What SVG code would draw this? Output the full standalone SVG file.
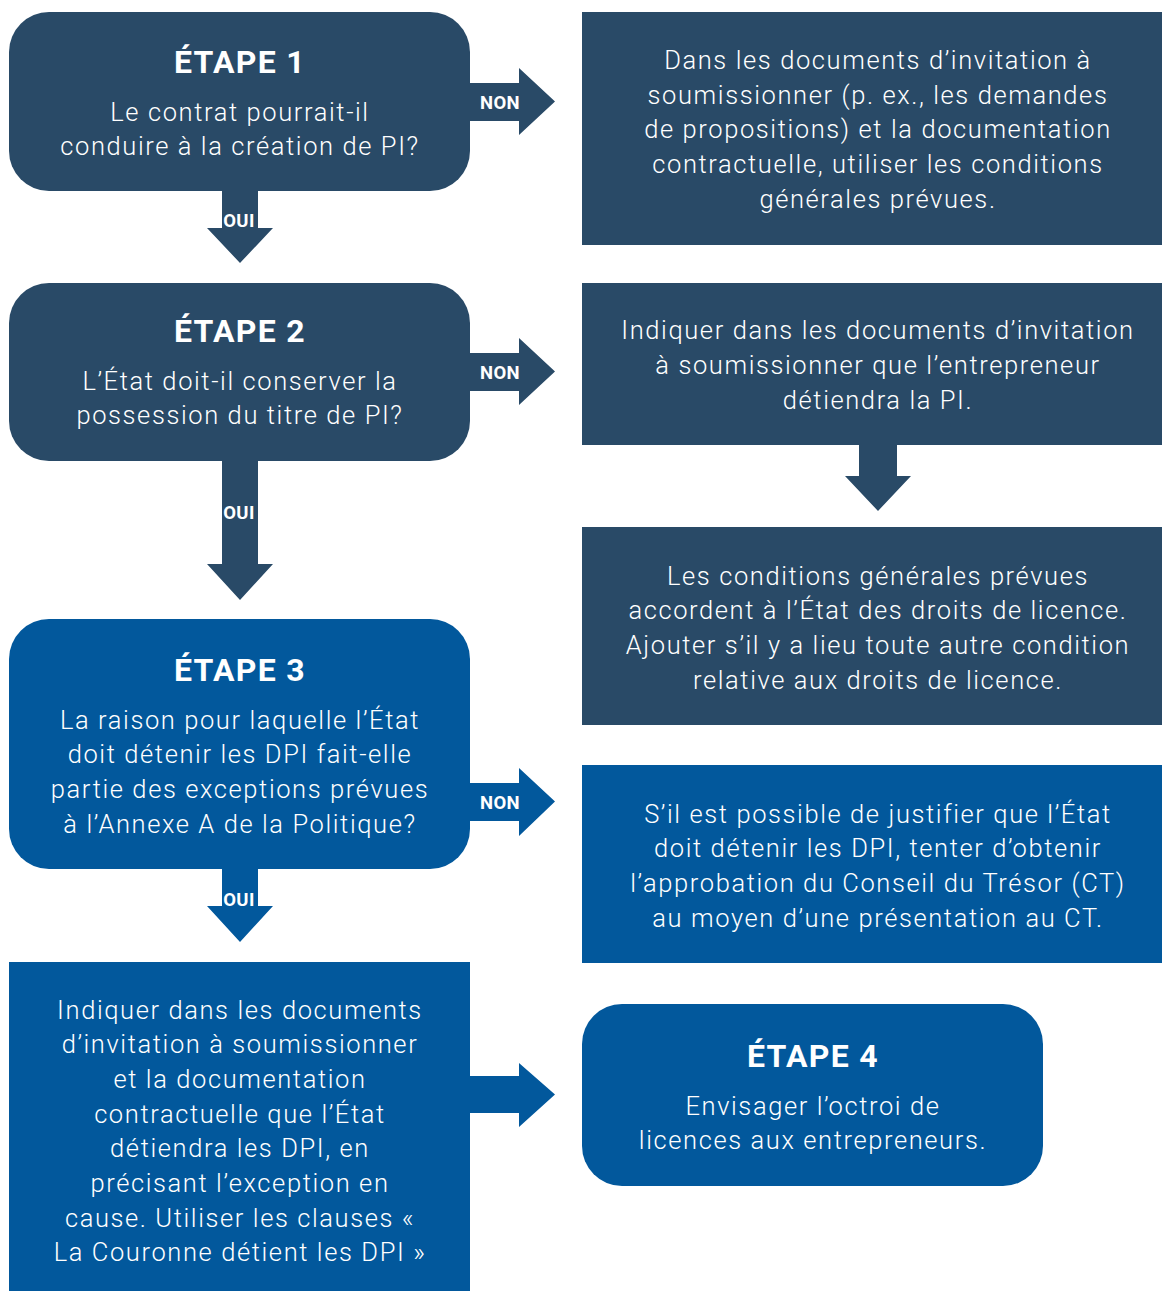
<svg xmlns="http://www.w3.org/2000/svg" width="1162" height="1291" viewBox="0 0 1162 1291">
<style>
.dk{fill:#294a67}
.bl{fill:#02589c}
text{fill:#fff;font-family:Roboto,"Noto Sans",sans-serif;text-anchor:middle}
.t{font-size:32px;font-weight:bold;letter-spacing:1.3px}
.b{font-size:25.5px;letter-spacing:1.6px;font-weight:300}
.l{font-size:18.5px;font-weight:bold;letter-spacing:0.4px}
</style>
<rect width="1162" height="1291" fill="#fff"/>
<g id="connectors">
<path class="dk" d="M470 83H519V68L555 101.5L519 135V121H470Z"/>
<text class="l" x="500" y="109">NON</text>
<path class="dk" d="M222 190H258V228H273L240 263L207 228H222Z"/>
<text class="l" x="239" y="227">OUI</text>
<path class="dk" d="M470 353H519V338L555 371.5L519 405V391H470Z"/>
<text class="l" x="500" y="379">NON</text>
<path class="dk" d="M222 460H258V564H273L240 600L207 564H222Z"/>
<text class="l" x="239" y="519">OUI</text>
<path class="dk" d="M859 445H897V476H911L878 511L845 476H859Z"/>
<path class="bl" d="M470 783H519V768L555 801.5L519 836V821H470Z"/>
<text class="l" x="500" y="809">NON</text>
<path class="bl" d="M222 869H258V906H273L240 942L207 906H222Z"/>
<text class="l" x="239" y="906">OUI</text>
<path class="bl" d="M470 1076H519V1063L555 1094.5L519 1127V1113H470Z"/>
</g>
<g id="etape1">
<rect class="dk" x="9" y="12" width="461" height="179" rx="40"/>
<text class="t" x="240" y="73">ÉTAPE 1</text>
<text class="b" x="240" y="121">Le contrat pourrait-il</text>
<text class="b" x="240" y="155">conduire à la création de PI?</text>
</g>
<g id="non1">
<rect class="dk" x="582" y="12" width="580" height="233"/>
<text class="b" x="878" y="69">Dans les documents d’invitation à</text>
<text class="b" x="878" y="104">soumissionner (p. ex., les demandes</text>
<text class="b" x="878" y="138">de propositions) et la documentation</text>
<text class="b" x="878" y="173">contractuelle, utiliser les conditions</text>
<text class="b" x="878" y="208">générales prévues.</text>
</g>
<g id="etape2">
<rect class="dk" x="9" y="283" width="461" height="178" rx="40"/>
<text class="t" x="240" y="342">ÉTAPE 2</text>
<text class="b" x="240" y="390">L’État doit-il conserver la</text>
<text class="b" x="240" y="424">possession du titre de PI?</text>
</g>
<g id="non2">
<rect class="dk" x="582" y="283" width="580" height="162"/>
<text class="b" x="878" y="339">Indiquer dans les documents d’invitation</text>
<text class="b" x="878" y="374">à soumissionner que l’entrepreneur</text>
<text class="b" x="878" y="409">détiendra la PI.</text>
</g>
<g id="licence">
<rect class="dk" x="582" y="527" width="580" height="198"/>
<text class="b" x="878" y="585">Les conditions générales prévues</text>
<text class="b" x="878" y="619">accordent à l’État des droits de licence.</text>
<text class="b" x="878" y="654">Ajouter s’il y a lieu toute autre condition</text>
<text class="b" x="878" y="689">relative aux droits de licence.</text>
</g>
<g id="etape3">
<rect class="bl" x="9" y="619" width="461" height="250" rx="40"/>
<text class="t" x="240" y="681">ÉTAPE 3</text>
<text class="b" x="240" y="729">La raison pour laquelle l’État</text>
<text class="b" x="240" y="763">doit détenir les DPI fait-elle</text>
<text class="b" x="240" y="798">partie des exceptions prévues</text>
<text class="b" x="240" y="833">à l’Annexe A de la Politique?</text>
</g>
<g id="non3">
<rect class="bl" x="582" y="765" width="580" height="198"/>
<text class="b" x="878" y="823">S’il est possible de justifier que l’État</text>
<text class="b" x="878" y="857">doit détenir les DPI, tenter d’obtenir</text>
<text class="b" x="878" y="892">l’approbation du Conseil du Trésor (CT)</text>
<text class="b" x="878" y="927">au moyen d’une présentation au CT.</text>
</g>
<g id="oui3">
<rect class="bl" x="9" y="962" width="461" height="329"/>
<text class="b" x="240" y="1019">Indiquer dans les documents</text>
<text class="b" x="240" y="1053">d’invitation à soumissionner</text>
<text class="b" x="240" y="1088">et la documentation</text>
<text class="b" x="240" y="1123">contractuelle que l’État</text>
<text class="b" x="240" y="1157">détiendra les DPI, en</text>
<text class="b" x="240" y="1192">précisant l’exception en</text>
<text class="b" x="240" y="1227">cause. Utiliser les clauses «</text>
<text class="b" x="240" y="1261">La Couronne détient les DPI »</text>
</g>
<g id="etape4">
<rect class="bl" x="582" y="1004" width="461" height="182" rx="40"/>
<text class="t" x="813" y="1067">ÉTAPE 4</text>
<text class="b" x="813" y="1115">Envisager l’octroi de</text>
<text class="b" x="813" y="1149">licences aux entrepreneurs.</text>
</g>
</svg>
